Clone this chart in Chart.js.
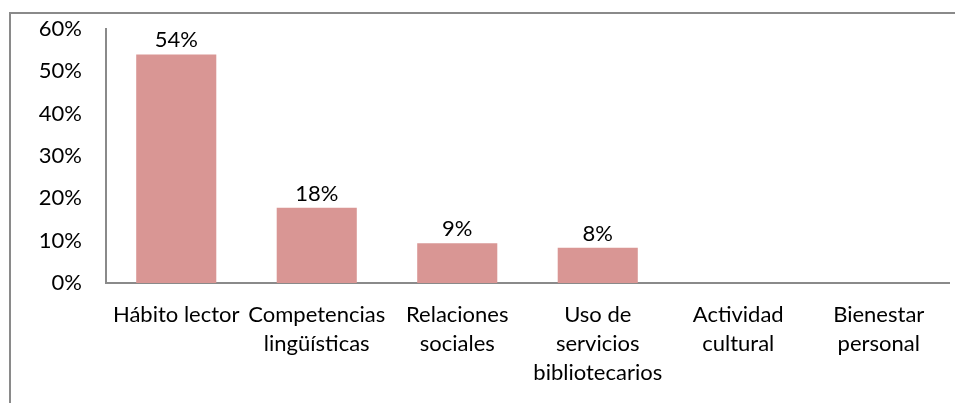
<!DOCTYPE html>
<html>
<head>
<meta charset="utf-8">
<script src="https://cdn.jsdelivr.net/npm/chart.js@4"></script>
<style>
    html, body { margin: 0; padding: 0; background: #fff; overflow: hidden; }
    #wrap { position: relative; width: 955px; height: 403px; }
    #frame { position: absolute; left: 9px; top: 12px; width: 1000px; height: 500px; border: 2px solid #8a8a8a; box-sizing: border-box; }
    #chart { position: absolute; left: 0; top: 0; }
</style>
</head>
<body>
<div id="wrap">
    <div id="frame"></div>
    <canvas id="chart" width="955" height="403"></canvas>
</div>
<script>
// categories (multi-line as in the picture)
const categories = [
    ['Hábito lector'],
    ['Competencias', 'lingüísticas'],
    ['Relaciones', 'sociales'],
    ['Uso de', 'servicios', 'bibliotecarios'],
    ['Actividad', 'cultural'],
    ['Bienestar', 'personal']
];
// percentages
const values = [54, 17.8, 9.4, 8.3, 0, 0];
const valueLabels = ['54%', '18%', '9%', '8%', '', ''];
const yTicks = [0, 10, 20, 30, 40, 50, 60];

const FONT = 'Lato, "Open Sans", sans-serif';

// draw value labels above the bars
const barLabels = {
    id: 'barLabels',
    afterDatasetsDraw(chart) {
        const ctx = chart.ctx;
        const meta = chart.getDatasetMeta(0);
        ctx.save();
        ctx.font = '22px ' + FONT;
        ctx.fillStyle = '#000';
        ctx.textAlign = 'center';
        ctx.textBaseline = 'alphabetic';
        meta.data.forEach((bar, i) => {
            if (!valueLabels[i]) return;
            ctx.fillText(valueLabels[i], bar.x, bar.y - 7);
        });
        ctx.restore();
    }
};

const ctx = document.getElementById('chart').getContext('2d');
new Chart(ctx, {
    type: 'bar',
    data: {
        labels: categories,
        datasets: [{
            data: values,
            backgroundColor: '#d99694',
            borderWidth: 0,
            barPercentage: 0.57,
            categoryPercentage: 1
        }]
    },
    options: {
        responsive: false,
        animation: false,
        layout: { padding: { top: 29, right: 6, left: 0, bottom: 0 } },
        plugins: { legend: { display: false }, tooltip: { enabled: false } },
        scales: {
            x: {
                grid: { display: false, drawTicks: false },
                border: { display: true, color: '#8a8a8a', width: 2 },
                ticks: {
                    color: '#000',
                    font: { family: FONT, size: 22, lineHeight: 1.3 },
                    padding: 18,
                    maxRotation: 0,
                    autoSkip: false
                },
                afterFit: s => { s.height = 120; }
            },
            y: {
                min: 0,
                max: 60,
                grid: { display: false, drawTicks: false },
                border: { display: true, color: '#8a8a8a', width: 2 },
                afterBuildTicks: s => { s.ticks = yTicks.map(v => ({ value: v })); },
                ticks: {
                    color: '#000',
                    font: { family: FONT, size: 22 },
                    padding: 24,
                    callback: v => v + '%'
                },
                afterFit: s => { s.width = 106; s.paddingTop = 0; s.paddingBottom = 0; }
            }
        }
    },
    plugins: [barLabels]
});
</script>
</body>
</html>
